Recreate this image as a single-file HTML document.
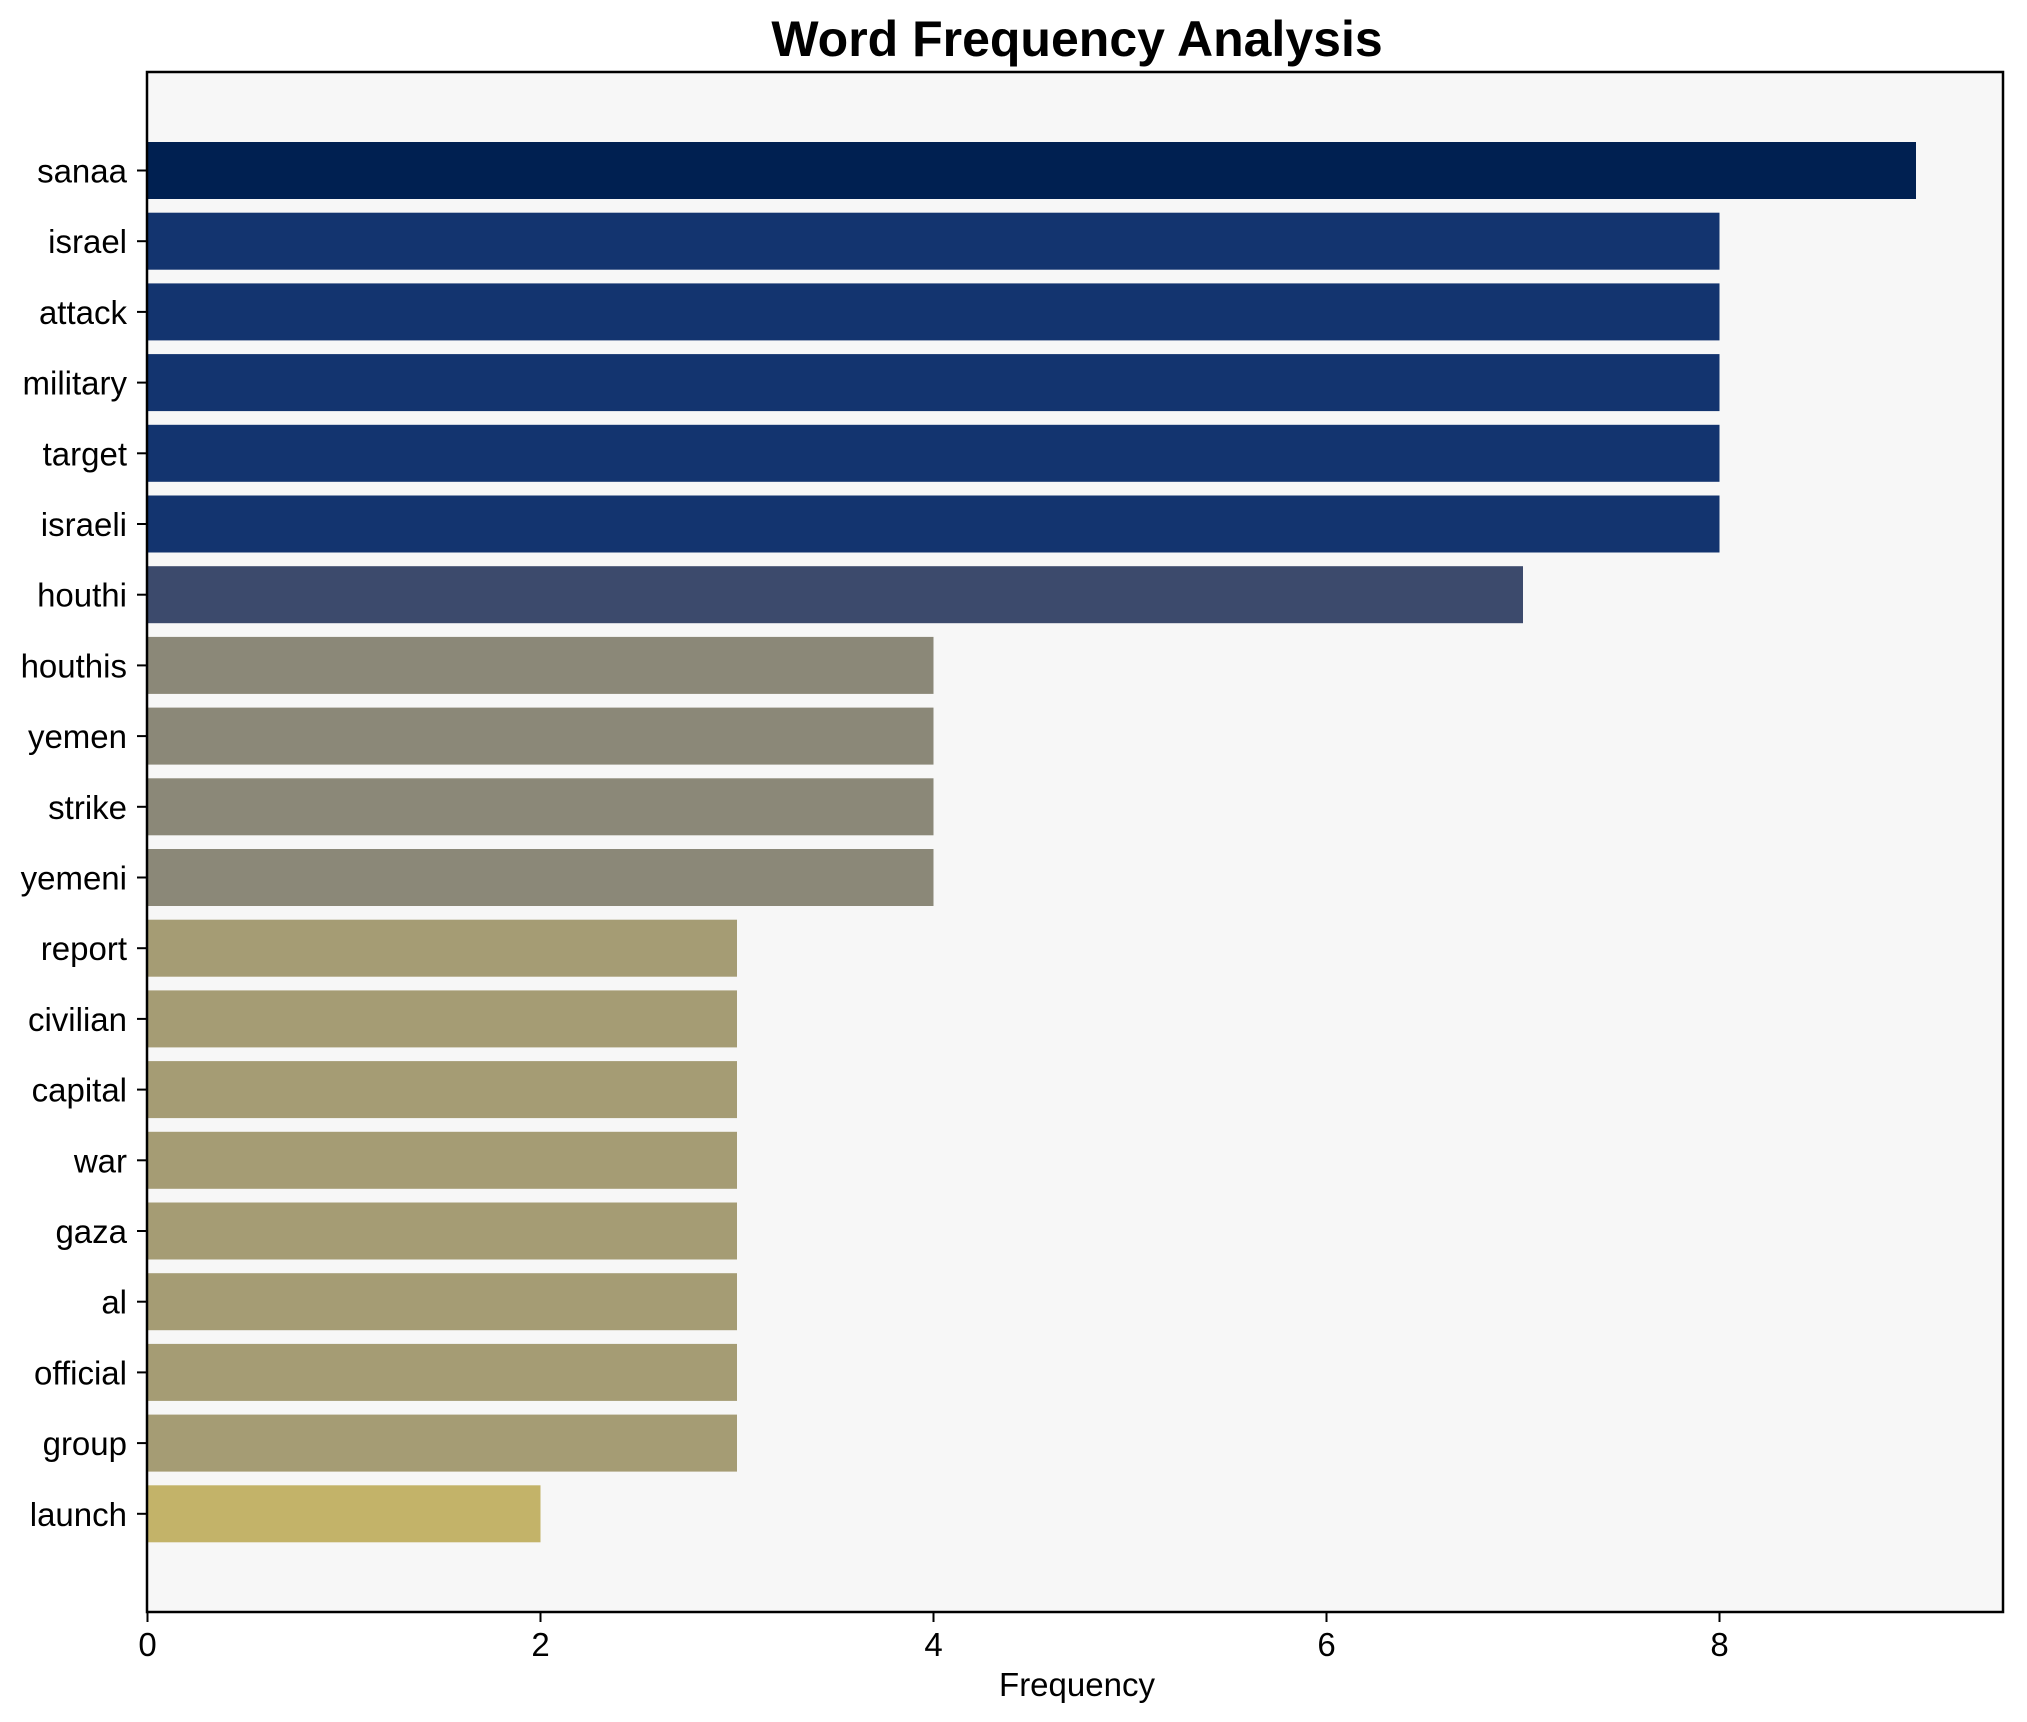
<!DOCTYPE html>
<html><head><meta charset="utf-8"><style>
html,body{margin:0;padding:0;background:#fff;}
svg{display:block;font-family:"Liberation Sans",Arial,sans-serif;}
</style></head><body>
<svg width="2027" height="1722" viewBox="0 0 2027 1722" xmlns="http://www.w3.org/2000/svg">
<rect x="0" y="0" width="2027" height="1722" fill="#fff"/>
<rect x="147" y="72" width="1856" height="1540" fill="#f7f7f7"/>
<g id="bars"></g>
<rect x="147" y="72" width="1856" height="1540" fill="none" stroke="#000" stroke-width="2.5"/>
<text x="1077" y="56" text-anchor="middle" font-size="50" font-weight="bold">Word Frequency Analysis</text>
<text x="1077" y="1696" text-anchor="middle" font-size="33">Frequency</text>
<g id="ticks" font-size="33"></g>
<script>
var d=[["sanaa",9],["israel",8],["attack",8],["military",8],["target",8],["israeli",8],["houthi",7],["houthis",4],["yemen",4],["strike",4],["yemeni",4],["report",3],["civilian",3],["capital",3],["war",3],["gaza",3],["al",3],["official",3],["group",3],["launch",2]];
var col={9:"#002051",8:"#13346f",7:"#3c4a6c",4:"#8b8878",3:"#a59c74",2:"#c3b369"};
var ns="http://www.w3.org/2000/svg",b=document.getElementById("bars"),t=document.getElementById("ticks");
function el(tag,a,p,txt){var e=document.createElementNS(ns,tag);for(var k in a)e.setAttribute(k,a[k]);if(txt)e.textContent=txt;p.appendChild(e);}
var u=196.5,x0=147.5;
d.forEach(function(r,i){var cy=170.5+i*70.7;
el("rect",{x:x0,y:cy-28.5,width:r[1]*u,height:57,fill:col[r[1]]},b);
el("line",{x1:137,x2:147,y1:cy,y2:cy,stroke:"#000","stroke-width":2},t);
el("text",{x:127,y:cy+12,"text-anchor":"end"},t,r[0]);});
for(var v=0;v<=8;v+=2){var x=x0+v*u;
el("line",{x1:x,x2:x,y1:1612,y2:1622,stroke:"#000","stroke-width":2},t);
el("text",{x:x,y:1656,"text-anchor":"middle"},t,String(v));}
</script>
</svg>
</body></html>
